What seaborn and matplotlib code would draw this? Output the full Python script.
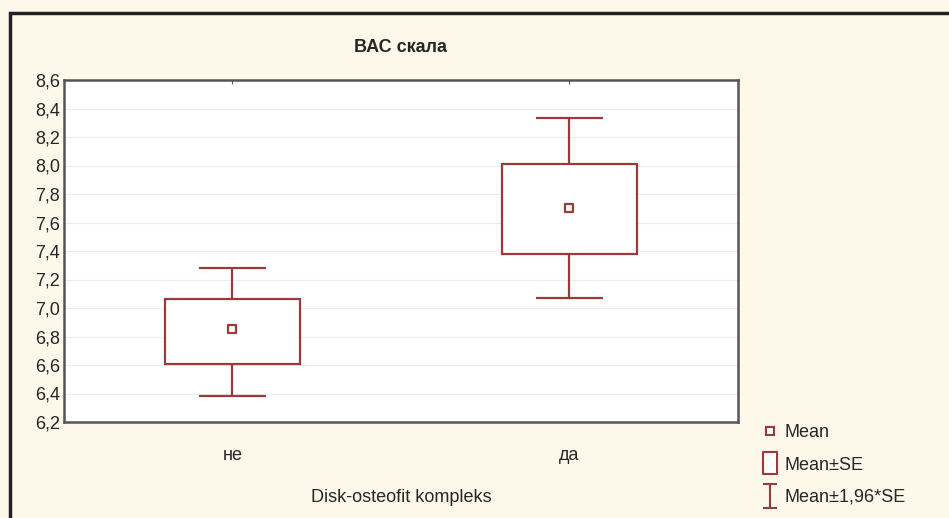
import numpy as np
import pandas as pd
import seaborn as sns
from matplotlib import pyplot as plt
from matplotlib.patches import Rectangle
from matplotlib.lines import Line2D
from matplotlib.path import Path

groups = ['не', 'да']
means = [6.85, 7.70]
se_low = [6.61, 7.38]
se_high = [7.06, 8.01]
ci_low = [6.38, 7.07]
ci_high = [7.28, 8.33]
yticks = [6.2, 6.4, 6.6, 6.8, 7.0, 7.2, 7.4, 7.6, 7.8, 8.0, 8.2, 8.4, 8.6]

df = pd.DataFrame({'group': groups, 'mean': means, 'se_low': se_low, 'se_high': se_high,
                   'ci_low': ci_low, 'ci_high': ci_high})

sns.set_style('white')
plt.rcParams['font.family'] = ['Liberation Sans Narrow', 'Liberation Sans', 'DejaVu Sans']

red = '#9a3b3b'
bg = '#fdf8ea'

fig = plt.figure(figsize=(9.49, 5.18), dpi=100, facecolor=bg)
ax = fig.add_axes([64 / 949, 1 - 422 / 518, 674 / 949, 342 / 518])
ax.set_facecolor('white')

x = np.arange(len(groups))

# whiskers (mean +- 1.96 SE)
ax.vlines(x, df['ci_low'], df['se_low'], color=red, lw=1.6, zorder=3)
ax.vlines(x, df['se_high'], df['ci_high'], color=red, lw=1.6, zorder=3)
ax.hlines(df['ci_low'], x - 0.1, x + 0.1, color=red, lw=1.6, zorder=3)
ax.hlines(df['ci_high'], x - 0.1, x + 0.1, color=red, lw=1.6, zorder=3)

# boxes (mean +- SE)
ax.bar(x, df['se_high'] - df['se_low'], bottom=df['se_low'], width=0.4,
       facecolor='white', edgecolor=red, lw=1.6, zorder=3)

# mean markers
sns.scatterplot(x=x, y=df['mean'], marker='s', s=40, facecolor='white',
                edgecolor=red, linewidth=1.6, ax=ax, zorder=4)

ax.set_xlim(-0.5, 1.5)
ax.set_ylim(6.2, 8.6)
ax.set_yticks(yticks)
ax.set_yticklabels([f'{v:.1f}'.replace('.', ',') for v in yticks], fontsize=13)
ax.set_xticks(x)
ax.set_xticklabels(groups, fontsize=13)
ax.set_ylabel('')
ax.yaxis.grid(True, color='#ececec', lw=0.8)
ax.set_axisbelow(True)
ax.tick_params(axis='y', direction='in', length=3, color='#555555', pad=3)
ax.tick_params(axis='x', direction='in', length=3, color='#555555', pad=18, top=True)
for s in ax.spines.values():
    s.set_color('#555555')
    s.set_linewidth(1.8)

ax.set_title('ВАС скала', fontsize=13, fontweight='bold', pad=20)
ax.set_xlabel('Disk-osteofit kompleks', fontsize=13, labelpad=18)

# legend
box_marker = Path([(-0.3, -0.5), (0.3, -0.5), (0.3, 0.5), (-0.3, 0.5), (-0.3, -0.5)],
                  [1, 2, 2, 2, 79])
i_marker = Path([(-0.3, 0.5), (0.3, 0.5), (0, 0.5), (0, -0.5), (-0.3, -0.5), (0.3, -0.5)],
                [1, 2, 1, 2, 1, 2])
handles = [
    Line2D([], [], marker='s', ls='none', markersize=6, markerfacecolor='white',
           markeredgecolor=red, markeredgewidth=1.5),
    Line2D([], [], marker=box_marker, ls='none', markersize=16, markerfacecolor='white',
           markeredgecolor=red, markeredgewidth=1.5),
    Line2D([], [], marker=i_marker, ls='none', markersize=17, color=red,
           markeredgewidth=1.5, markerfacecolor='none'),
]
fig.legend(handles, ['Mean', 'Mean±SE', 'Mean±1,96*SE'], loc='upper left',
           bbox_to_anchor=(745 / 949, 1 - 408 / 518), frameon=False, fontsize=13,
           handletextpad=0.3, labelspacing=0.85, handlelength=1.0)

# outer frame
fig.add_artist(Rectangle((10 / 949, -0.1), 1.1, 1 - 13 / 518 + 0.1, transform=fig.transFigure,
                         fill=False, edgecolor='#222222', lw=2.5))

fig.savefig('out.png', dpi=100, facecolor=bg)
